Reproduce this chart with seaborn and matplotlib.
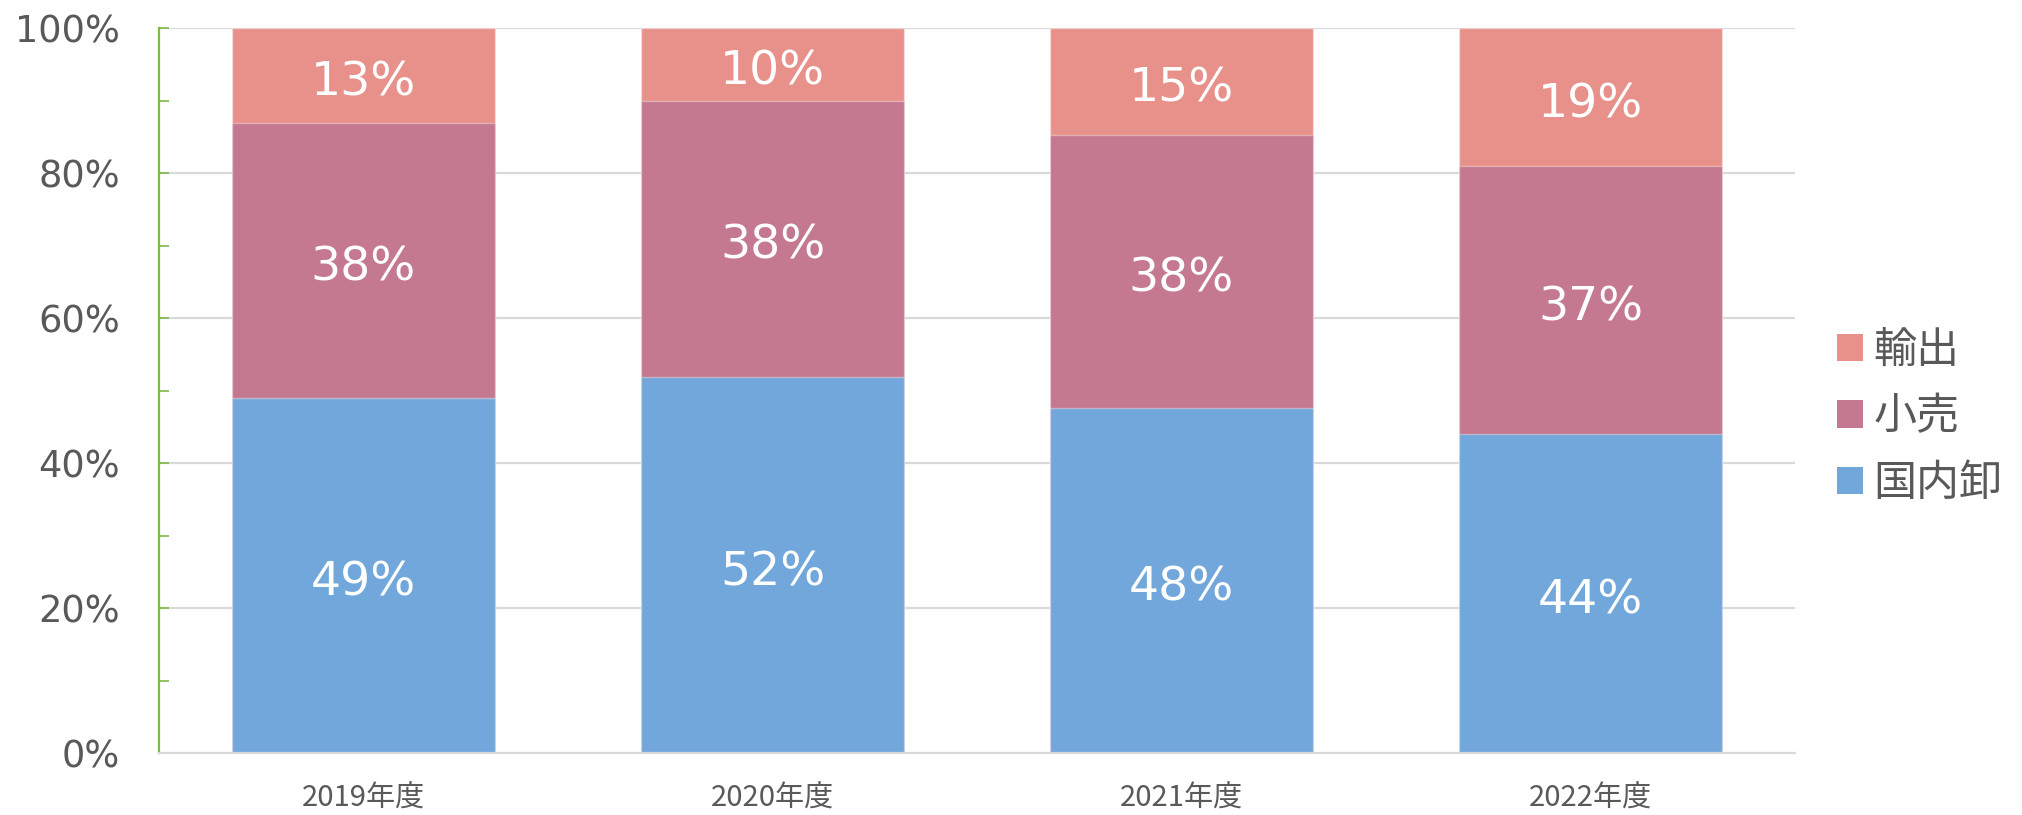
import matplotlib
matplotlib.use("Agg")
import matplotlib.pyplot as plt
import seaborn as sns
import numpy as np
import pandas as pd
from matplotlib.ticker import MultipleLocator, PercentFormatter
from matplotlib.patches import Patch

# ---- data ----
years = ["2019年度", "2020年度", "2021年度", "2022年度"]
domestic = [48.9, 51.9, 47.6, 44.0]   # 国内卸
retail = [38.0, 38.1, 37.7, 36.9]     # 小売
export = [13.1, 10.0, 14.7, 19.1]     # 輸出
series_names = ["国内卸", "小売", "輸出"]
colors = ["#71A7DA", "#C47990", "#E8918B"]

sns.set_theme(style="white")
plt.rcParams['font.family'] = ['DejaVu Sans', 'Noto Sans CJK JP']

df = pd.DataFrame({"year": years, "国内卸": domestic, "小売": retail, "輸出": export})
df["c1"] = df["国内卸"]
df["c2"] = df["国内卸"] + df["小売"]
df["c3"] = df["c2"] + df["輸出"]

fig = plt.figure(figsize=(20.22, 8.15), dpi=100)
ax = fig.add_axes([159/2022, 1-753/815, (1795-159)/2022, (753-28)/815])

grid_c = "#D9D9D9"
text_c = "#595959"
green = "#7DB84A"

for yv in [20, 40, 60, 80, 100]:
    ax.axhline(yv, color=grid_c, lw=1.6, zorder=0)

edge = (1, 1, 1, 0.35)
for col, c in zip(["c3", "c2", "c1"], colors[::-1]):
    sns.barplot(data=df, x="year", y=col, color=c, width=0.645, ax=ax,
                saturation=1, edgecolor=edge, linewidth=1.0, zorder=2)

# data labels
for i in range(len(years)):
    bottoms = [0, domestic[i], domestic[i] + retail[i]]
    vals = [domestic[i], retail[i], export[i]]
    for b, v in zip(bottoms, vals):
        ax.annotate(f"{round(v):d}%", xy=(i, b + v / 2), xytext=(0, -5.5),
                    textcoords="offset points", ha="center", va="center",
                    color="white", fontsize=34, family=['DejaVu Sans'], zorder=5)

ax.set_xlim(-0.5, 3.5)
ax.set_ylim(0, 100)
ax.yaxis.set_major_locator(MultipleLocator(20))
ax.yaxis.set_minor_locator(MultipleLocator(10))
ax.yaxis.set_major_formatter(PercentFormatter(decimals=0))
ax.set_xlabel("")
ax.set_ylabel("")

for s in ["top", "right"]:
    ax.spines[s].set_visible(False)
ax.spines["left"].set_color(green)
ax.spines["left"].set_linewidth(1.6)
ax.spines["bottom"].set_color(grid_c)
ax.spines["bottom"].set_linewidth(1.6)

ax.tick_params(axis="y", which="both", direction="in", length=7.5, width=1.2,
               color=green, left=True, labelsize=26.5, labelcolor=text_c, pad=28)
ax.tick_params(axis="x", length=0, pad=22, labelsize=21, labelcolor=text_c)
for lab in ax.get_xticklabels():
    lab.set_family(['Noto Sans CJK JP'])

handles = [Patch(facecolor=c, edgecolor="none") for c in colors]
leg = ax.legend(handles[::-1], series_names[::-1], loc="center left",
                bbox_to_anchor=(1.0257, 0.463), frameon=False,
                prop={'family': ['Noto Sans CJK JP'], 'size': 31},
                handlelength=0.6, handleheight=0.6, handletextpad=0.25,
                labelspacing=0.52, borderpad=0, borderaxespad=0)
for t in leg.get_texts():
    t.set_color(text_c)

fig.savefig("out.png", dpi=100)
